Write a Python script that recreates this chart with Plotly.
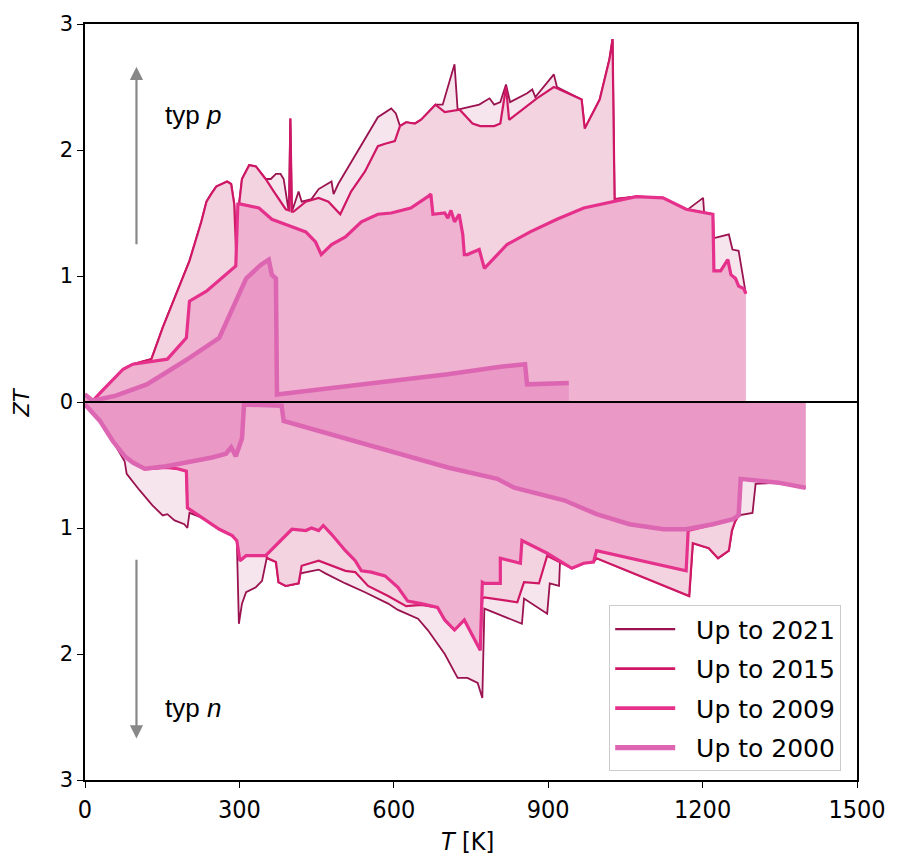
import plotly.graph_objects as go

# ---- maximum ZT envelopes (p-type, positive) ----
T_P_2021 = [0, 15, 29, 74, 93, 129, 151, 178, 203, 226, 236, 245, 255, 276, 284, 290, 295, 299, 300, 305,
            319, 332, 351, 361, 371, 380, 386, 396, 399, 402, 409, 415, 421, 440, 454, 469, 479, 483, 492, 569,
            595, 604, 612, 624, 641, 653, 681, 695, 718, 724, 734, 766, 786, 795, 807, 818, 826, 859, 869, 875,
            911, 917, 965, 971, 1000, 1019, 1025, 1029, 1071, 1123, 1168, 1172, 1201, 1203, 1220, 1222, 1251, 1258, 1270, 1280,
            1284]
ZT_P_2021 = [0.06, 0.01, 0.07, 0.26, 0.30, 0.34, 0.59, 0.86, 1.12, 1.43, 1.59, 1.65, 1.71, 1.75, 1.73, 1.57, 1.05, 1.06, 1.59, 1.77,
             1.88, 1.87, 1.77, 1.77, 1.81, 1.81, 1.77, 1.51, 2.25, 1.51, 1.59, 1.67, 1.59, 1.61, 1.69, 1.73, 1.75, 1.65, 1.73, 2.26,
             2.33, 2.29, 2.19, 2.22, 2.21, 2.24, 2.36, 2.36, 2.68, 2.32, 2.33, 2.36, 2.41, 2.36, 2.38, 2.52, 2.38, 2.45, 2.48, 2.42,
             2.60, 2.50, 2.40, 2.17, 2.40, 2.72, 2.88, 1.61, 1.63, 1.62, 1.53, 1.53, 1.62, 1.50, 1.49, 1.30, 1.33, 1.21, 1.20, 0.95,
             0.86]

T_P_2015 = [0, 15, 29, 74, 93, 129, 151, 178, 203, 226, 236, 245, 255, 276, 284, 290, 295, 299, 300, 305,
            319, 332, 351, 367, 390, 397, 399, 402, 405, 429, 454, 473, 496, 517, 544, 569, 583, 602, 612, 624,
            641, 653, 681, 699, 728, 753, 768, 795, 807, 818, 824, 878, 911, 917, 965, 971, 1000, 1019, 1025, 1029,
            1071, 1123, 1168, 1220, 1222, 1235, 1249, 1255, 1264, 1270, 1280, 1284]
ZT_P_2015 = [0.06, 0.01, 0.07, 0.26, 0.30, 0.34, 0.59, 0.86, 1.12, 1.43, 1.59, 1.65, 1.71, 1.75, 1.73, 1.57, 1.05, 1.06, 1.59, 1.77,
             1.88, 1.87, 1.77, 1.67, 1.53, 1.52, 2.25, 1.51, 1.51, 1.59, 1.62, 1.59, 1.49, 1.67, 1.83, 2.03, 2.05, 2.07, 2.19, 2.22,
             2.21, 2.24, 2.36, 2.30, 2.32, 2.21, 2.19, 2.19, 2.21, 2.50, 2.24, 2.41, 2.50, 2.49, 2.40, 2.17, 2.40, 2.72, 2.88, 1.61,
             1.63, 1.62, 1.53, 1.49, 1.04, 1.04, 1.13, 1.01, 0.98, 0.92, 0.90, 0.86]

T_P_2009 = [0, 15, 29, 74, 93, 125, 160, 197, 203, 236, 293, 297, 303, 338, 363, 402, 429, 448, 459, 479,
            506, 537, 569, 595, 622, 633, 666, 672, 676, 699, 705, 711, 718, 727, 734, 737, 743, 766, 776, 820,
            865, 917, 969, 1027, 1071, 1123, 1168, 1220, 1222, 1235, 1249, 1255, 1264, 1270, 1280, 1284]
ZT_P_2009 = [0.06, 0.01, 0.07, 0.26, 0.30, 0.32, 0.34, 0.51, 0.80, 0.88, 1.08, 1.57, 1.57, 1.54, 1.45, 1.39, 1.35, 1.27, 1.17, 1.25,
             1.31, 1.43, 1.49, 1.50, 1.53, 1.54, 1.63, 1.65, 1.49, 1.50, 1.46, 1.52, 1.43, 1.49, 1.33, 1.17, 1.17, 1.21, 1.06, 1.25,
             1.35, 1.45, 1.54, 1.59, 1.63, 1.62, 1.53, 1.49, 1.04, 1.04, 1.13, 1.01, 0.98, 0.92, 0.90, 0.86]

T_P_2000 = [0, 15, 60, 120, 160, 203, 261, 286, 313, 342, 357, 363, 371, 373, 705, 807, 855, 859, 940]
ZT_P_2000 = [0.06, 0.01, 0.05, 0.14, 0.24, 0.35, 0.51, 0.74, 0.98, 1.09, 1.13, 1.01, 0.98, 0.06, 0.22, 0.28, 0.30, 0.14, 0.15]

# ---- maximum ZT envelopes (n-type, drawn downward) ----
T_N_2021 = [0, 29, 54, 77, 81, 106, 131, 151, 160, 174, 193, 199, 203, 228, 261, 286, 295, 299, 305, 313,
            332, 344, 353, 371, 376, 390, 415, 419, 454, 467, 506, 544, 589, 608, 647, 666, 699, 724, 743, 763,
            772, 776, 849, 853, 898, 903, 921, 923, 946, 969, 988, 994, 1174, 1181, 1212, 1230, 1251, 1257, 1263, 1270,
            1297, 1303, 1347, 1400]
ZT_N_2021 = [-0.02, -0.15, -0.31, -0.47, -0.57, -0.70, -0.82, -0.90, -0.89, -0.94, -0.97, -1.00, -0.88, -0.92, -1.01, -1.06, -1.10, -1.76, -1.60, -1.51,
             -1.47, -1.42, -1.24, -1.27, -1.43, -1.46, -1.44, -1.36, -1.33, -1.36, -1.44, -1.51, -1.60, -1.65, -1.72, -1.81, -2.00, -2.19, -2.19, -2.23,
             -2.35, -1.64, -1.76, -1.56, -1.68, -1.44, -1.46, -1.26, -1.32, -1.28, -1.27, -1.24, -1.54, -1.12, -1.16, -1.24, -1.18, -1.02, -0.95, -0.90,
             -0.88, -0.65, -0.64, -0.68]

T_N_2015 = [0, 29, 54, 77, 93, 116, 158, 180, 197, 199, 228, 261, 286, 295, 301, 313, 351, 355, 371, 376,
            390, 415, 421, 454, 506, 525, 550, 589, 624, 653, 685, 699, 718, 737, 768, 772, 776, 840, 853, 882,
            898, 946, 969, 988, 994, 1174, 1181, 1212, 1230, 1251, 1257, 1263, 1270, 1274, 1347, 1400]
ZT_N_2015 = [-0.02, -0.15, -0.31, -0.43, -0.48, -0.53, -0.52, -0.53, -0.55, -0.84, -0.92, -1.01, -1.06, -1.10, -1.26, -1.22, -1.22, -1.24, -1.27, -1.43,
             -1.46, -1.44, -1.30, -1.26, -1.34, -1.35, -1.46, -1.54, -1.62, -1.61, -1.63, -1.73, -1.81, -1.73, -1.97, -1.56, -1.55, -1.59, -1.43, -1.44,
             -1.22, -1.32, -1.28, -1.27, -1.24, -1.54, -1.12, -1.16, -1.24, -1.18, -1.02, -0.95, -0.90, -0.61, -0.64, -0.68]

T_N_2009 = [0, 29, 54, 77, 93, 116, 158, 180, 197, 199, 228, 261, 286, 295, 301, 313, 351, 376, 402, 429,
            440, 454, 463, 479, 506, 525, 537, 556, 583, 608, 627, 653, 685, 699, 718, 737, 768, 772, 776, 807,
            807, 846, 849, 898, 946, 969, 988, 994, 1168, 1172, 1220, 1259, 1270, 1274, 1347, 1400]
ZT_N_2009 = [-0.02, -0.15, -0.31, -0.43, -0.48, -0.53, -0.52, -0.53, -0.55, -0.84, -0.92, -1.01, -1.06, -1.10, -1.26, -1.22, -1.22, -1.12, -1.01, -1.02,
             -1.00, -1.02, -0.98, -1.05, -1.18, -1.26, -1.34, -1.35, -1.38, -1.47, -1.58, -1.60, -1.63, -1.73, -1.81, -1.73, -1.97, -1.43, -1.44, -1.44,
             -1.24, -1.28, -1.10, -1.20, -1.32, -1.28, -1.27, -1.18, -1.34, -1.02, -0.97, -0.93, -0.90, -0.61, -0.64, -0.68]

T_N_2000 = [0, 29, 54, 77, 93, 116, 158, 197, 247, 274, 284, 293, 299, 305, 309, 382, 386, 705, 801, 834,
            931, 994, 1058, 1124, 1168, 1220, 1259, 1270, 1274, 1347, 1400]
ZT_N_2000 = [-0.02, -0.15, -0.31, -0.43, -0.48, -0.53, -0.51, -0.48, -0.44, -0.41, -0.36, -0.43, -0.35, -0.29, -0.02, -0.03, -0.15, -0.52, -0.61, -0.68,
             -0.78, -0.89, -0.97, -1.01, -1.01, -0.97, -0.93, -0.90, -0.61, -0.64, -0.68]

SERIES = ["Up to 2021", "Up to 2015", "Up to 2009", "Up to 2000"]
LINE_COLORS = ["#9a124f", "#cf1766", "#e5318b", "#dd66b3"]
FILL_COLORS = ["#f6e5ed", "#f3d3e0", "#efb2d1", "#ea98c6"]
LINE_WIDTHS = [1.8, 2.2, 3.2, 4.5]

P_DATA = [(T_P_2021, ZT_P_2021), (T_P_2015, ZT_P_2015), (T_P_2009, ZT_P_2009), (T_P_2000, ZT_P_2000)]
N_DATA = [(T_N_2021, ZT_N_2021), (T_N_2015, ZT_N_2015), (T_N_2009, ZT_N_2009), (T_N_2000, ZT_N_2000)]

fig = go.Figure()

# filled envelopes, oldest data set drawn last (on top)
for name, lc, fc, lw, (tp, zp), (tn, zn) in zip(SERIES, LINE_COLORS, FILL_COLORS, LINE_WIDTHS, P_DATA, N_DATA):
    for tx, zy in ((tp, zp), (tn, zn)):
        fig.add_trace(go.Scatter(
            x=tx, y=zy, mode="lines", fill="tozeroy", fillcolor=fc,
            line=dict(color=lc, width=lw), showlegend=False, hoverinfo="skip"))

# line-only legend entries (leading no-break spaces widen the gap after the sample)
for i, (name, lc, lw) in enumerate(zip(SERIES, LINE_COLORS, LINE_WIDTHS)):
    fig.add_trace(go.Scatter(
        x=[None], y=[None], mode="lines", name="\u00a0\u00a0" + name,
        line=dict(color=lc, width=lw + 0.6), legendgroup=f"g{i}", showlegend=True))

tick_font = dict(family="DejaVu Sans", size=21, color="black")
narrow = "Liberation Sans Narrow, DejaVu Sans Condensed, DejaVu Sans"
x_tick_font = dict(family=narrow, size=25, color="black")

fig.update_layout(
    width=898, height=856,
    margin=dict(l=85, r=36, t=22, b=76),
    paper_bgcolor="white", plot_bgcolor="white",
    showlegend=True,
    legend=dict(
        x=0.679, y=0.231, xanchor="left", yanchor="top",
        bgcolor="rgba(255,255,255,0.9)", bordercolor="#cccccc", borderwidth=1,
        font=dict(family="DejaVu Sans", size=25, color="black"),
        itemwidth=60, tracegroupgap=4, traceorder="grouped"),
    xaxis=dict(
        range=[0, 1500], tickvals=[0, 300, 600, 900, 1200, 1500],
        ticks="outside", ticklen=6, tickwidth=1.3, tickcolor="black",
        showline=True, linecolor="black", linewidth=1.5, mirror=True,
        showgrid=False, zeroline=False, tickfont=x_tick_font),
    yaxis=dict(
        range=[-3, 3], tickvals=[-3, -2, -1, 0, 1, 2, 3],
        ticktext=["3", "2", "1", "0", "1", "2", "3"],
        ticks="outside", ticklen=6, tickwidth=1.3, tickcolor="black",
        showline=True, linecolor="black", linewidth=1.5, mirror=True,
        showgrid=False, zeroline=False, tickfont=tick_font),
)

# horizontal zero line separating p- and n-type
fig.add_shape(type="line", xref="paper", x0=0, x1=1, yref="y", y0=0, y1=0,
              line=dict(color="black", width=2), layer="above")

# direction arrows
fig.add_annotation(x=100, y=2.66, ax=100, ay=1.24, xref="x", yref="y", axref="x", ayref="y",
                   text="", showarrow=True, arrowhead=2, arrowsize=1.2, arrowwidth=2.2,
                   arrowcolor="#888888", standoff=0)
fig.add_annotation(x=100, y=-2.67, ax=100, ay=-1.24, xref="x", yref="y", axref="x", ayref="y",
                   text="", showarrow=True, arrowhead=2, arrowsize=1.2, arrowwidth=2.2,
                   arrowcolor="#888888", standoff=0)
fig.add_annotation(x=151, y=2.28, xref="x", yref="y", text="typ <i>p</i>", showarrow=False,
                   xanchor="left", yanchor="middle",
                   font=dict(family="Liberation Sans, Arial", size=26, color="black"))
fig.add_annotation(x=151, y=-2.43, xref="x", yref="y", text="typ <i>n</i>", showarrow=False,
                   xanchor="left", yanchor="middle",
                   font=dict(family="Liberation Sans, Arial", size=26, color="black"))

# axis titles
fig.add_annotation(x=(22 - 85) / 777, y=(780 - 401) / 758, xref="paper", yref="paper",
                   text="<i>ZT</i>", showarrow=False, textangle=-90,
                   xanchor="center", yanchor="middle",
                   font=dict(family="DejaVu Sans", size=21, color="black"))
fig.add_annotation(x=(470 - 85) / 777, y=(780 - 842) / 758, xref="paper", yref="paper",
                   text="<i>T</i> [K]", showarrow=False, xanchor="center", yanchor="middle",
                   font=dict(family=narrow, size=25, color="black"))

fig.write_html("out.html")
